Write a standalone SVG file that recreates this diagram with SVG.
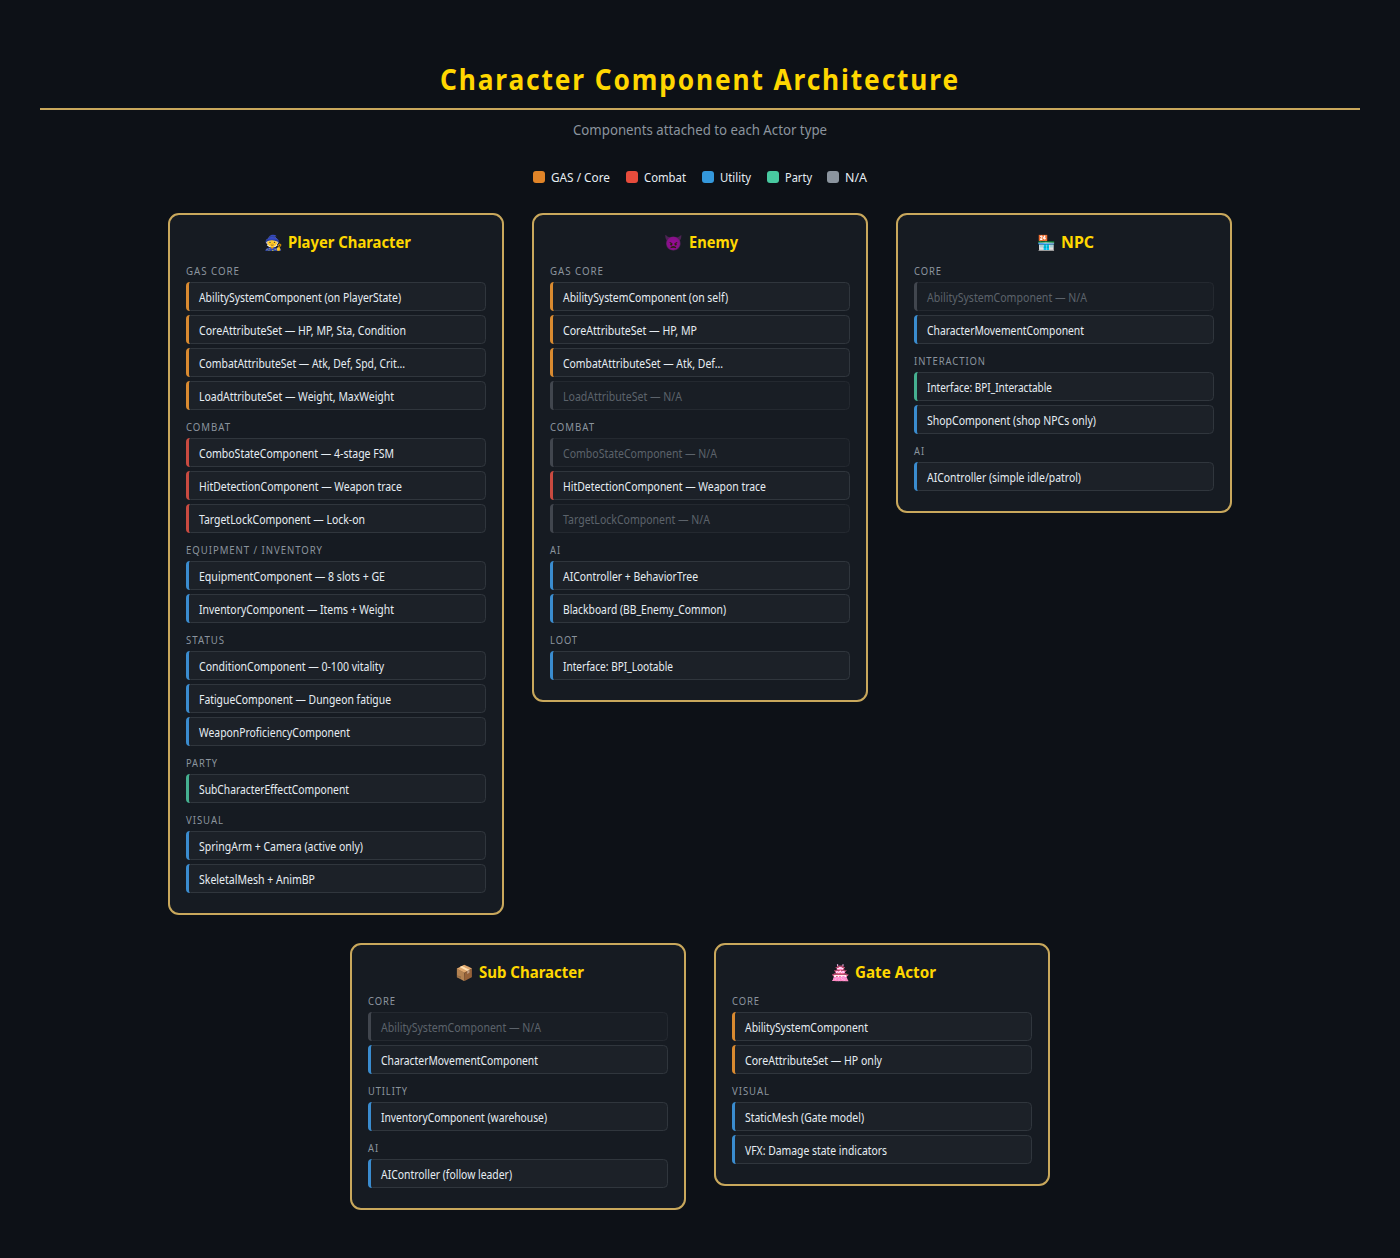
<svg xmlns="http://www.w3.org/2000/svg" width="1400" height="1258" viewBox="0 0 1400 1258">
<style>
text{font-family:"Noto Sans","Open Sans","Liberation Sans",sans-serif}
.card{fill:#161b22;stroke:#c9a85c;stroke-width:2}
.h{font-size:16px;font-weight:700;fill:#ffd700}
.e{font-size:15px;font-family:"Noto Color Emoji","Noto Sans",sans-serif}
.s{font-size:10px;letter-spacing:1px;fill:#8b949e}
.r{fill:#1c2128;stroke:#30363d;stroke-width:1}
.n{fill:#191e25;stroke:#242930}
.t{font-size:11.700px;fill:#e6edf3;transform:translateY(.5px)}
.tn{font-size:11.700px;fill:#5c636b;transform:translateY(.5px)}
.g{fill:#d98a30}.c{fill:#c94a40}.u{fill:#3a8ccf}.p{fill:#45b090}.x{fill:#41464e}
.lg{fill:#e08428}.lc{fill:#e74c3c}.lu{fill:#3498db}.lp{fill:#48c9a0}
.l{font-size:12px;fill:#e6edf3}
</style>
<defs>
<path id="a" d="M4 0A4 4 0 0 0 0 4V25A4 4 0 0 0 4 29A1.500 3 0 0 1 3 26V3A1.500 3 0 0 1 4 0Z"/>
</defs>
<rect width="1400" height="1258" fill="#0d1117"/>
<text x="440" y="90" font-size="28" font-weight="700" letter-spacing="2" fill="#ffd700" textLength="520" lengthAdjust="spacingAndGlyphs">Character Component Architecture</text>
<rect x="40" y="108" width="1320" height="2" fill="#c9a85c"/>
<text x="573" y="135" font-size="14" fill="#8b949e" textLength="254" lengthAdjust="spacingAndGlyphs">Components attached to each Actor type</text>
<g id="legend">
<rect x="533" y="171" width="12" height="12" rx="3" class="lg"/><text x="551" y="182" class="l" textLength="59" lengthAdjust="spacingAndGlyphs">GAS / Core</text>
<rect x="626" y="171" width="12" height="12" rx="3" class="lc"/><text x="644" y="182" class="l" textLength="42" lengthAdjust="spacingAndGlyphs">Combat</text>
<rect x="702" y="171" width="12" height="12" rx="3" class="lu"/><text x="720" y="182" class="l" textLength="31" lengthAdjust="spacingAndGlyphs">Utility</text>
<rect x="767" y="171" width="12" height="12" rx="3" class="lp"/><text x="785" y="182" class="l" textLength="27" lengthAdjust="spacingAndGlyphs">Party</text>
<rect x="827" y="171" width="12" height="12" rx="3" fill="#8b949e"/><text x="845" y="182" class="l" textLength="22" lengthAdjust="spacingAndGlyphs">N/A</text>
</g>
<g id="player">
<rect x="169" y="214" width="334" height="700" rx="10" class="card"/>
<text x="264" y="248" class="e">🧙</text><text x="288" y="248" class="h" textLength="123" lengthAdjust="spacingAndGlyphs">Player Character</text>
<text x="186" y="275" class="s" textLength="54" lengthAdjust="spacingAndGlyphs">GAS CORE</text>
<rect x="186.500" y="282.500" width="299" height="28" rx="4" class="r"/><use href="#a" x="186" y="282" class="g"/><text x="199" y="301" class="t" textLength="202" lengthAdjust="spacingAndGlyphs">AbilitySystemComponent (on PlayerState)</text>
<rect x="186.500" y="315.500" width="299" height="28" rx="4" class="r"/><use href="#a" x="186" y="315" class="g"/><text x="199" y="334" class="t" textLength="207" lengthAdjust="spacingAndGlyphs">CoreAttributeSet — HP, MP, Sta, Condition</text>
<rect x="186.500" y="348.500" width="299" height="28" rx="4" class="r"/><use href="#a" x="186" y="348" class="g"/><text x="199" y="367" class="t" textLength="206" lengthAdjust="spacingAndGlyphs">CombatAttributeSet — Atk, Def, Spd, Crit...</text>
<rect x="186.500" y="381.500" width="299" height="28" rx="4" class="r"/><use href="#a" x="186" y="381" class="g"/><text x="199" y="400" class="t" textLength="195" lengthAdjust="spacingAndGlyphs">LoadAttributeSet — Weight, MaxWeight</text>
<text x="186" y="431" class="s" textLength="45" lengthAdjust="spacingAndGlyphs">COMBAT</text>
<rect x="186.500" y="438.500" width="299" height="28" rx="4" class="r"/><use href="#a" x="186" y="438" class="c"/><text x="199" y="457" class="t" textLength="195" lengthAdjust="spacingAndGlyphs">ComboStateComponent — 4-stage FSM</text>
<rect x="186.500" y="471.500" width="299" height="28" rx="4" class="r"/><use href="#a" x="186" y="471" class="c"/><text x="199" y="490" class="t" textLength="203" lengthAdjust="spacingAndGlyphs">HitDetectionComponent — Weapon trace</text>
<rect x="186.500" y="504.500" width="299" height="28" rx="4" class="r"/><use href="#a" x="186" y="504" class="c"/><text x="199" y="523" class="t" textLength="166" lengthAdjust="spacingAndGlyphs">TargetLockComponent — Lock-on</text>
<text x="186" y="554" class="s" textLength="137" lengthAdjust="spacingAndGlyphs">EQUIPMENT / INVENTORY</text>
<rect x="186.500" y="561.500" width="299" height="28" rx="4" class="r"/><use href="#a" x="186" y="561" class="u"/><text x="199" y="580" class="t" textLength="186" lengthAdjust="spacingAndGlyphs">EquipmentComponent — 8 slots + GE</text>
<rect x="186.500" y="594.500" width="299" height="28" rx="4" class="r"/><use href="#a" x="186" y="594" class="u"/><text x="199" y="613" class="t" textLength="195" lengthAdjust="spacingAndGlyphs">InventoryComponent — Items + Weight</text>
<text x="186" y="644" class="s" textLength="39" lengthAdjust="spacingAndGlyphs">STATUS</text>
<rect x="186.500" y="651.500" width="299" height="28" rx="4" class="r"/><use href="#a" x="186" y="651" class="u"/><text x="199" y="670" class="t" textLength="185" lengthAdjust="spacingAndGlyphs">ConditionComponent — 0-100 vitality</text>
<rect x="186.500" y="684.500" width="299" height="28" rx="4" class="r"/><use href="#a" x="186" y="684" class="u"/><text x="199" y="703" class="t" textLength="192" lengthAdjust="spacingAndGlyphs">FatigueComponent — Dungeon fatigue</text>
<rect x="186.500" y="717.500" width="299" height="28" rx="4" class="r"/><use href="#a" x="186" y="717" class="u"/><text x="199" y="736" class="t" textLength="151" lengthAdjust="spacingAndGlyphs">WeaponProficiencyComponent</text>
<text x="186" y="767" class="s" textLength="32" lengthAdjust="spacingAndGlyphs">PARTY</text>
<rect x="186.500" y="774.500" width="299" height="28" rx="4" class="r"/><use href="#a" x="186" y="774" class="p"/><text x="199" y="793" class="t" textLength="150" lengthAdjust="spacingAndGlyphs">SubCharacterEffectComponent</text>
<text x="186" y="824" class="s" textLength="38" lengthAdjust="spacingAndGlyphs">VISUAL</text>
<rect x="186.500" y="831.500" width="299" height="28" rx="4" class="r"/><use href="#a" x="186" y="831" class="u"/><text x="199" y="850" class="t" textLength="164" lengthAdjust="spacingAndGlyphs">SpringArm + Camera (active only)</text>
<rect x="186.500" y="864.500" width="299" height="28" rx="4" class="r"/><use href="#a" x="186" y="864" class="u"/><text x="199" y="883" class="t" textLength="116" lengthAdjust="spacingAndGlyphs">SkeletalMesh + AnimBP</text>
</g>
<g id="enemy">
<rect x="533" y="214" width="334" height="487" rx="10" class="card"/>
<text x="664" y="248" class="e" style="filter:brightness(.7) saturate(.8)">👿</text><text x="689" y="248" class="h" textLength="49" lengthAdjust="spacingAndGlyphs">Enemy</text>
<text x="550" y="275" class="s" textLength="54" lengthAdjust="spacingAndGlyphs">GAS CORE</text>
<rect x="550.500" y="282.500" width="299" height="28" rx="4" class="r"/><use href="#a" x="550" y="282" class="g"/><text x="563" y="301" class="t" textLength="165" lengthAdjust="spacingAndGlyphs">AbilitySystemComponent (on self)</text>
<rect x="550.500" y="315.500" width="299" height="28" rx="4" class="r"/><use href="#a" x="550" y="315" class="g"/><text x="563" y="334" class="t" textLength="134" lengthAdjust="spacingAndGlyphs">CoreAttributeSet — HP, MP</text>
<rect x="550.500" y="348.500" width="299" height="28" rx="4" class="r"/><use href="#a" x="550" y="348" class="g"/><text x="563" y="367" class="t" textLength="160" lengthAdjust="spacingAndGlyphs">CombatAttributeSet — Atk, Def...</text>
<rect x="550.500" y="381.500" width="299" height="28" rx="4" class="r n"/><use href="#a" x="550" y="381" class="x"/><text x="563" y="400" class="tn" textLength="119" lengthAdjust="spacingAndGlyphs">LoadAttributeSet — N/A</text>
<text x="550" y="431" class="s" textLength="45" lengthAdjust="spacingAndGlyphs">COMBAT</text>
<rect x="550.500" y="438.500" width="299" height="28" rx="4" class="r n"/><use href="#a" x="550" y="438" class="x"/><text x="563" y="457" class="tn" textLength="154" lengthAdjust="spacingAndGlyphs">ComboStateComponent — N/A</text>
<rect x="550.500" y="471.500" width="299" height="28" rx="4" class="r"/><use href="#a" x="550" y="471" class="c"/><text x="563" y="490" class="t" textLength="203" lengthAdjust="spacingAndGlyphs">HitDetectionComponent — Weapon trace</text>
<rect x="550.500" y="504.500" width="299" height="28" rx="4" class="r n"/><use href="#a" x="550" y="504" class="x"/><text x="563" y="523" class="tn" textLength="147" lengthAdjust="spacingAndGlyphs">TargetLockComponent — N/A</text>
<text x="550" y="554" class="s" textLength="11" lengthAdjust="spacingAndGlyphs">AI</text>
<rect x="550.500" y="561.500" width="299" height="28" rx="4" class="r"/><use href="#a" x="550" y="561" class="u"/><text x="563" y="580" class="t" textLength="135" lengthAdjust="spacingAndGlyphs">AIController + BehaviorTree</text>
<rect x="550.500" y="594.500" width="299" height="28" rx="4" class="r"/><use href="#a" x="550" y="594" class="u"/><text x="563" y="613" class="t" textLength="163" lengthAdjust="spacingAndGlyphs">Blackboard (BB_Enemy_Common)</text>
<text x="550" y="644" class="s" textLength="28" lengthAdjust="spacingAndGlyphs">LOOT</text>
<rect x="550.500" y="651.500" width="299" height="28" rx="4" class="r"/><use href="#a" x="550" y="651" class="u"/><text x="563" y="670" class="t" textLength="110" lengthAdjust="spacingAndGlyphs">Interface: BPI_Lootable</text>
</g>
<g id="npc">
<rect x="897" y="214" width="334" height="298" rx="10" class="card"/>
<text x="1037" y="248" class="e">🏪</text><text x="1061" y="248" class="h" textLength="33" lengthAdjust="spacingAndGlyphs">NPC</text>
<text x="914" y="275" class="s" textLength="28" lengthAdjust="spacingAndGlyphs">CORE</text>
<rect x="914.500" y="282.500" width="299" height="28" rx="4" class="r n"/><use href="#a" x="914" y="282" class="x"/><text x="927" y="301" class="tn" textLength="160" lengthAdjust="spacingAndGlyphs">AbilitySystemComponent — N/A</text>
<rect x="914.500" y="315.500" width="299" height="28" rx="4" class="r"/><use href="#a" x="914" y="315" class="u"/><text x="927" y="334" class="t" textLength="157" lengthAdjust="spacingAndGlyphs">CharacterMovementComponent</text>
<text x="914" y="365" class="s" textLength="72" lengthAdjust="spacingAndGlyphs">INTERACTION</text>
<rect x="914.500" y="372.500" width="299" height="28" rx="4" class="r"/><use href="#a" x="914" y="372" class="p"/><text x="927" y="391" class="t" textLength="125" lengthAdjust="spacingAndGlyphs">Interface: BPI_Interactable</text>
<rect x="914.500" y="405.500" width="299" height="28" rx="4" class="r"/><use href="#a" x="914" y="405" class="u"/><text x="927" y="424" class="t" textLength="169" lengthAdjust="spacingAndGlyphs">ShopComponent (shop NPCs only)</text>
<text x="914" y="455" class="s" textLength="11" lengthAdjust="spacingAndGlyphs">AI</text>
<rect x="914.500" y="462.500" width="299" height="28" rx="4" class="r"/><use href="#a" x="914" y="462" class="u"/><text x="927" y="481" class="t" textLength="154" lengthAdjust="spacingAndGlyphs">AIController (simple idle/patrol)</text>
</g>
<g id="sub">
<rect x="351" y="944" width="334" height="265" rx="10" class="card"/>
<text x="455" y="978" class="e">📦</text><text x="479" y="978" class="h" textLength="105" lengthAdjust="spacingAndGlyphs">Sub Character</text>
<text x="368" y="1005" class="s" textLength="28" lengthAdjust="spacingAndGlyphs">CORE</text>
<rect x="368.500" y="1012.500" width="299" height="28" rx="4" class="r n"/><use href="#a" x="368" y="1012" class="x"/><text x="381" y="1031" class="tn" textLength="160" lengthAdjust="spacingAndGlyphs">AbilitySystemComponent — N/A</text>
<rect x="368.500" y="1045.500" width="299" height="28" rx="4" class="r"/><use href="#a" x="368" y="1045" class="u"/><text x="381" y="1064" class="t" textLength="157" lengthAdjust="spacingAndGlyphs">CharacterMovementComponent</text>
<text x="368" y="1095" class="s" textLength="40" lengthAdjust="spacingAndGlyphs">UTILITY</text>
<rect x="368.500" y="1102.500" width="299" height="28" rx="4" class="r"/><use href="#a" x="368" y="1102" class="u"/><text x="381" y="1121" class="t" textLength="166" lengthAdjust="spacingAndGlyphs">InventoryComponent (warehouse)</text>
<text x="368" y="1152" class="s" textLength="11" lengthAdjust="spacingAndGlyphs">AI</text>
<rect x="368.500" y="1159.500" width="299" height="28" rx="4" class="r"/><use href="#a" x="368" y="1159" class="u"/><text x="381" y="1178" class="t" textLength="131" lengthAdjust="spacingAndGlyphs">AIController (follow leader)</text>
</g>
<g id="gate">
<rect x="715" y="944" width="334" height="241" rx="10" class="card"/>
<text x="831" y="978" class="e" style="filter:grayscale(1) sepia(1) hue-rotate(290deg) saturate(3)">🏯</text><text x="855" y="978" class="h" textLength="81" lengthAdjust="spacingAndGlyphs">Gate Actor</text>
<text x="732" y="1005" class="s" textLength="28" lengthAdjust="spacingAndGlyphs">CORE</text>
<rect x="732.500" y="1012.500" width="299" height="28" rx="4" class="r"/><use href="#a" x="732" y="1012" class="g"/><text x="745" y="1031" class="t" textLength="123" lengthAdjust="spacingAndGlyphs">AbilitySystemComponent</text>
<rect x="732.500" y="1045.500" width="299" height="28" rx="4" class="r"/><use href="#a" x="732" y="1045" class="g"/><text x="745" y="1064" class="t" textLength="137" lengthAdjust="spacingAndGlyphs">CoreAttributeSet — HP only</text>
<text x="732" y="1095" class="s" textLength="38" lengthAdjust="spacingAndGlyphs">VISUAL</text>
<rect x="732.500" y="1102.500" width="299" height="28" rx="4" class="r"/><use href="#a" x="732" y="1102" class="u"/><text x="745" y="1121" class="t" textLength="119" lengthAdjust="spacingAndGlyphs">StaticMesh (Gate model)</text>
<rect x="732.500" y="1135.500" width="299" height="28" rx="4" class="r"/><use href="#a" x="732" y="1135" class="u"/><text x="745" y="1154" class="t" textLength="142" lengthAdjust="spacingAndGlyphs">VFX: Damage state indicators</text>
</g>
<g id="connectors"></g>
</svg>
